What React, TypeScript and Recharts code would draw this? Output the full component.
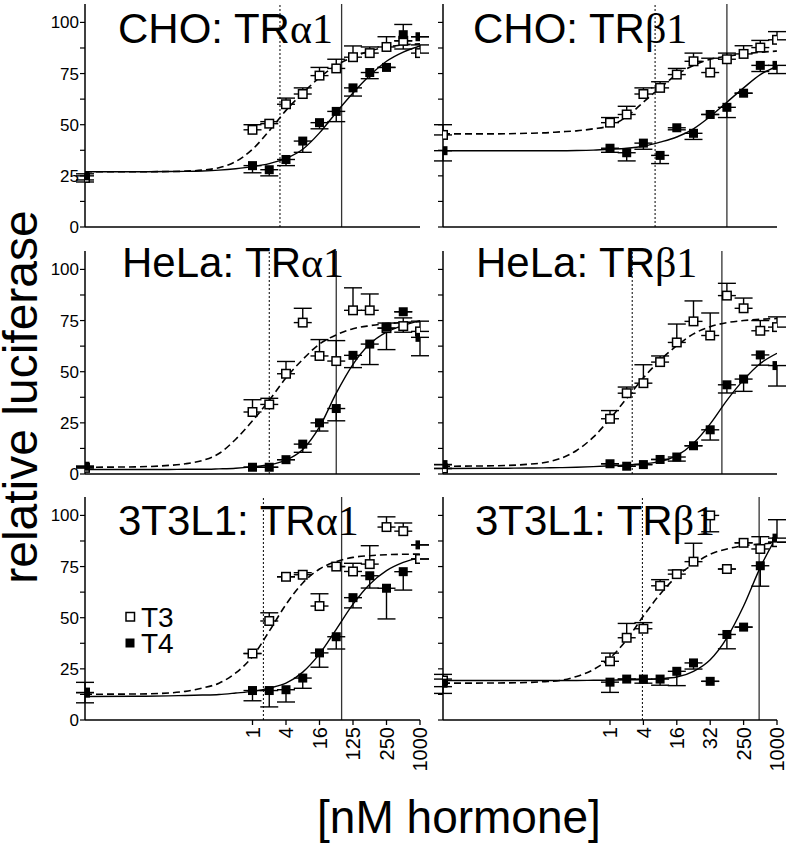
import { ComposedChart, XAxis, YAxis, Line, Scatter, ErrorBar, ReferenceLine } from 'recharts';

// x positions: 0 = vehicle, 10..20 = hormone doses (evenly spaced categories)
const doseIdx = [0, 10, 11, 12, 13, 14, 15, 16, 17, 18, 19, 20];
const fitIdx = [0, 3, 5, 6, 7, 8, 9, 10, 11, 12, 13, 14, 15, 16, 17, 18, 19, 20];
const xTicks = [10, 12, 14, 16, 18, 20];
const xLabelsLeft = ['1', '4', '16', '125', '250', '1000'];
const xLabelsRight = ['1', '4', '16', '32', '250', '1000'];
const yTicks = [0, 12.5, 25, 37.5, 50, 62.5, 75, 87.5, 100];

// CHO: TRa1
const choA_T3 = [24, 47.5, 50.5, 60, 65, 74, 77.5, 83, 85, 88, 91, 85];
const choA_T3err = [[2, 2], [0, 2.5], [0, 1], [0, 3], [0, 3], [0, 4], [0, 4.5], [0, 5.5], [0, 3], [0, 5], [0, 0], [0, 4]];
const choA_T4 = [25, 30, 28, 33, 42, 51, 56.5, 68, 75.5, 78, 94, 93];
const choA_T4err = [[2, 0], [3.5, 0], [3, 0], [3, 0], [5.5, 0], [3, 0], [5, 0], [4, 0], [3, 0], [0, 0], [7, 5], [0, 0]];
const choA_fitT3 = [27, 27, 27.1, 27.3, 27.8, 29, 32, 38, 47, 57, 65.5, 73, 79, 83, 86, 88, 89, 89.5];
const choA_fitT4 = [27, 27, 27.1, 27.2, 27.4, 27.8, 28.5, 29.5, 31, 33.5, 38, 46, 56, 65.5, 74, 81, 85.5, 88.5];
const choA_ec = [11.64, 15.32];

// CHO: TRb1
const choB_T3 = [45, 51, 55, 65, 68, 74.5, 81, 75.5, 82, 84.6, 87.7, 91.5];
const choB_T3err = [[0, 5], [0, 2.5], [0, 4], [0, 3], [0, 3], [0, 3], [0, 4], [0, 7], [0, 3], [0, 4], [0, 3.5], [0, 4]];
const choB_T4 = [37.3, 38.5, 36.3, 41, 35, 48.5, 45.8, 55, 58.5, 65.4, 79, 79];
const choB_T4err = [[5, 0], [2, 0], [4, 0], [3, 0], [4, 0], [1, 0], [3, 0], [0, 0], [5, 0], [0, 0], [3, 0], [4, 0]];
const choB_fitT3 = [45.5, 45.5, 45.8, 46, 46.5, 47, 48, 49.5, 54, 61, 68, 74.5, 79, 82, 83.5, 84.6, 85.4, 86];
const choB_fitT4 = [37.3, 37.3, 37.3, 37.3, 37.3, 37.4, 37.6, 38, 38.5, 39.5, 41.5, 44, 48, 54, 61, 68, 74.5, 78.5];
const choB_ec = [12.7, 17.0];

// HeLa: TRa1
const helaA_T3 = [3, 30.3, 34, 49, 74, 57.7, 55.2, 80, 80, 71.3, 72.3, 69.7];
const helaA_T3err = [[0, 0], [0, 6], [0, 3], [0, 6], [0, 7], [0, 8], [0, 10], [0, 11], [0, 8], [0, 0], [3, 4], [0, 5]];
const helaA_T4 = [3.8, 3.3, 3.3, 7, 14.6, 25, 32, 58, 63.5, 71.8, 79.3, 66.8];
const helaA_T4err = [[0, 0], [0, 0], [0, 0], [0, 0], [4, 0], [4, 0], [6, 0], [6, 0], [10, 0], [11, 2], [0, 0], [9, 0]];
const helaA_fitT3 = [3.3, 3.5, 4.2, 5, 6.6, 10, 17, 26, 36, 47, 56, 63.5, 68, 71, 72.5, 73.5, 74, 74.5];
const helaA_fitT4 = [2.2, 2.2, 2.2, 2.3, 2.3, 2.5, 2.8, 3.5, 4.5, 6.8, 12, 23, 39.5, 53.6, 63.5, 69.3, 72.6, 75];
const helaA_ec = [11.0, 15.0];

// HeLa: TRb1
const helaB_T3 = [2.7, 27, 39.5, 44.4, 54.7, 64.3, 74.6, 67.7, 87.2, 81, 70, 71.8];
const helaB_T3err = [[0, 0], [0, 4], [0, 3], [0, 9], [0, 3], [0, 9], [0, 10], [0, 11], [0, 6], [0, 5], [0, 5], [0, 5]];
const helaB_T4 = [4.6, 5, 3.8, 4.6, 7.1, 8.3, 13.8, 21.6, 43.6, 46.4, 58.2, 53];
const helaB_T4err = [[0, 0], [0, 0], [0, 0], [0, 0], [0, 0], [2, 0], [0, 0], [5, 0], [4, 0], [6, 0], [5, 0], [10, 0]];
const helaB_fitT3 = [3.8, 4, 4.7, 5.5, 7.5, 11.5, 18, 27, 37, 47, 55.6, 62.7, 68.5, 72, 74, 75, 75.6, 76];
const helaB_fitT4 = [2.7, 2.8, 2.9, 3, 3.1, 3.3, 3.6, 4, 4.4, 5, 6.2, 9, 15, 24.5, 36, 46, 54, 59];
const helaB_ec = [11.33, 16.7];

// 3T3L1: TRa1
const l1A_T3 = [13.4, 32.5, 48.4, 70, 71, 55.7, 75, 72.6, 76.2, 94.3, 92.3, 78.7];
const l1A_T3err = [[0, 0], [0, 0], [0, 4], [0, 0], [0, 1], [0, 6], [0, 0], [0, 4], [0, 9], [0, 5], [0, 4], [0, 0]];
const l1A_T4 = [13.4, 14.4, 14.4, 14.8, 20.5, 32.8, 40.7, 59.8, 70.5, 64.4, 72.5, 85.6];
const l1A_T4err = [[5, 5], [5, 0], [8, 0], [6, 0], [5, 0], [7, 0], [6, 0], [5, 0], [6, 0], [15, 0], [9, 0], [0, 0]];
const l1A_fitT3 = [12.6, 12.7, 13.2, 14, 15.6, 18, 23, 31, 43.4, 56.5, 67, 73.8, 77.4, 79.5, 80.3, 80.8, 81, 81.1];
const l1A_fitT4 = [11.5, 11.6, 11.8, 12, 12.2, 12.5, 13.2, 14, 15.6, 18, 23.4, 32.3, 44.3, 56.6, 66.4, 73, 77, 79.5];
const l1A_ec = [10.65, 15.32];

// 3T3L1: TRb1
const l1B_T3 = [19.3, 28.7, 40.2, 44.6, 65.6, 71.3, 77.4, 100, 73.8, 86.6, 83.6, 86.9];
const l1B_T3err = [[3, 3], [0, 4], [0, 7], [0, 3], [0, 3], [0, 2], [0, 9], [8, 0], [0, 0], [0, 0], [0, 6], [0, 0]];
const l1B_T4 = [18, 18.5, 20, 20, 20, 23.8, 27.9, 18.9, 41.8, 45.4, 75.4, 88.9];
const l1B_T4err = [[5, 2], [5, 0], [0, 0], [2, 0], [3, 0], [7, 0], [3, 0], [0, 0], [7, 0], [0, 0], [10, 0], [0, 9]];
const l1B_fitT3 = [18, 18.1, 18.3, 18.7, 19.3, 21.3, 24.6, 30.3, 39.3, 50.8, 61.5, 70.2, 76.2, 81, 83.6, 85.2, 86, 86.6];
const l1B_fitT4 = [19.3, 19.3, 19.3, 19.3, 19.3, 19.3, 19.4, 19.5, 19.6, 19.8, 20.2, 21, 23.8, 29.5, 40.2, 55.7, 74.6, 90];
const l1B_ec = [11.94, 18.93];

const SANS = '"Liberation Sans", Arial, sans-serif';
const SERIF = '"Liberation Serif", "Times New Roman", serif';

const pts = (ys: number[], errs: number[][]) => doseIdx.map((x, i) => ({ x, y: ys[i], err: errs[i] }));
const fit = (ys: number[]) => fitIdx.map((x, i) => ({ x, y: ys[i] }));

const panels = [
  { t3: choA_T3, t3e: choA_T3err, t4: choA_T4, t4e: choA_T4err, f3: choA_fitT3, f4: choA_fitT4, ec: choA_ec, left: true, top: 4, bottom: false },
  { t3: choB_T3, t3e: choB_T3err, t4: choB_T4, t4e: choB_T4err, f3: choB_fitT3, f4: choB_fitT4, ec: choB_ec, left: false, top: 4, bottom: false },
  { t3: helaA_T3, t3e: helaA_T3err, t4: helaA_T4, t4e: helaA_T4err, f3: helaA_fitT3, f4: helaA_fitT4, ec: helaA_ec, left: true, top: 251, bottom: false },
  { t3: helaB_T3, t3e: helaB_T3err, t4: helaB_T4, t4e: helaB_T4err, f3: helaB_fitT3, f4: helaB_fitT4, ec: helaB_ec, left: false, top: 251, bottom: false },
  { t3: l1A_T3, t3e: l1A_T3err, t4: l1A_T4, t4e: l1A_T4err, f3: l1A_fitT3, f4: l1A_fitT4, ec: l1A_ec, left: true, top: 497, bottom: true },
  { t3: l1B_T3, t3e: l1B_T3err, t4: l1B_T4, t4e: l1B_T4err, f3: l1B_fitT3, f4: l1B_fitT4, ec: l1B_ec, left: false, top: 497, bottom: true },
];

const titles = [
  { x: 118, y: 43, a: 'CHO: TR', b: 'α1' },
  { x: 473, y: 43, a: 'CHO: TR', b: 'β1' },
  { x: 122, y: 277, a: 'HeLa: TR', b: 'α1' },
  { x: 476, y: 277, a: 'HeLa: TR', b: 'β1' },
  { x: 118, y: 535, a: '3T3L1: TR', b: 'α1' },
  { x: 475, y: 535, a: '3T3L1: TR', b: 'β1' },
];

const openSq = (p: any) => (
  <rect x={p.cx - 4.25} y={p.cy - 4.25} width={8.5} height={8.5} fill="#fff" stroke="#000" strokeWidth={1.5} />
);
const fullSq = (p: any) => <rect x={p.cx - 4.5} y={p.cy - 4.5} width={9} height={9} fill="#000" />;

const makeTick = (labels: string[]) => (props: any) => {
  const { x, y, payload } = props;
  const i = xTicks.indexOf(payload.value);
  return (
    <text x={x} y={y} transform={`rotate(-90 ${x} ${y})`} textAnchor="end" dy="0.36em"
      fontSize={20} fontFamily={SANS} fill="#000">
      {labels[i]}
    </text>
  );
};

const PLOT_H = 223;

function Panel({ p }: { p: (typeof panels)[number] }) {
  const yw = p.left ? 45 : 23;
  const plotW = p.left ? 335 : 334;
  const xh = p.bottom ? 60 : 1;
  const mb = p.bottom ? 0 : 12;
  const w = yw + plotW + 10;
  const h = PLOT_H + xh + mb;
  return (
    <div style={{ position: 'absolute', left: p.left ? 40 : 420, top: p.top }}>
      <ComposedChart width={w} height={h} margin={{ top: 0, right: 10, bottom: mb, left: 0 }}>
        <XAxis type="number" dataKey="x" domain={[0, 20]} ticks={xTicks} interval={0} allowDataOverflow
          height={xh} axisLine={{ stroke: '#000', strokeWidth: 1.5 }}
          tickLine={p.bottom ? { stroke: '#000', strokeWidth: 1.3 } : false} tickSize={5}
          tick={p.bottom ? makeTick(p.left ? xLabelsLeft : xLabelsRight) : false} />
        <YAxis type="number" domain={[0, 109]} ticks={yTicks} interval={0} allowDataOverflow width={yw}
          axisLine={{ stroke: '#000', strokeWidth: 1.5 }} tickLine={{ stroke: '#000', strokeWidth: 1.2 }}
          tickSize={5} tickMargin={1}
          tick={{ fill: '#000', fontSize: 17, fontFamily: SANS }}
          tickFormatter={(v: number) => (p.left && v % 25 === 0 ? String(v) : '')} />
        <ReferenceLine x={p.ec[0]} stroke="#000" strokeWidth={1} strokeDasharray="2 2" />
        <ReferenceLine x={p.ec[1]} stroke="#333" strokeWidth={1.3} />
        <Line data={fit(p.f3)} dataKey="y" type="monotone" dot={false} stroke="#000" strokeWidth={1.6}
          strokeDasharray="7 4" isAnimationActive={false} />
        <Line data={fit(p.f4)} dataKey="y" type="monotone" dot={false} stroke="#000" strokeWidth={1.4}
          isAnimationActive={false} />
        <Scatter data={pts(p.t3, p.t3e)} dataKey="y" shape={openSq} isAnimationActive={false}>
          <ErrorBar dataKey="err" direction="y" width={9} stroke="#000" strokeWidth={1.4} />
        </Scatter>
        <Scatter data={pts(p.t4, p.t4e)} dataKey="y" shape={fullSq} isAnimationActive={false}>
          <ErrorBar dataKey="err" direction="y" width={9} stroke="#000" strokeWidth={1.4} />
        </Scatter>
      </ComposedChart>
    </div>
  );
}

export default function App() {
  return (
    <div style={{ position: 'absolute', left: 0, top: 0, width: 788, height: 847, background: '#fff' }}>
      {panels.map((p, i) => <Panel key={i} p={p} />)}
      <svg width={788} height={847} style={{ position: 'absolute', left: 0, top: 0, pointerEvents: 'none' }}>
        {titles.map((t, i) => (
          <text key={i} x={t.x} y={t.y} fontSize={42} fontFamily={SANS} fill="#000">
            {t.a}
            <tspan fontFamily={SERIF}>{t.b}</tspan>
          </text>
        ))}
        <rect x={126} y={612.5} width={8.5} height={8.5} fill="#fff" stroke="#000" strokeWidth={1.5} />
        <text x={141} y={627} fontSize={28} fontFamily={SANS} fill="#000">T3</text>
        <rect x={125.5} y={638.5} width={9} height={9} fill="#000" />
        <text x={141} y={653} fontSize={28} fontFamily={SANS} fill="#000">T4</text>
        <text transform="translate(37 397) rotate(-90)" textAnchor="middle" fontSize={48} fontFamily={SANS} fill="#000">
          relative luciferase
        </text>
        <text x={459} y={833} textAnchor="middle" fontSize={46} fontFamily={SANS} fill="#000">[nM hormone]</text>
      </svg>
    </div>
  );
}
